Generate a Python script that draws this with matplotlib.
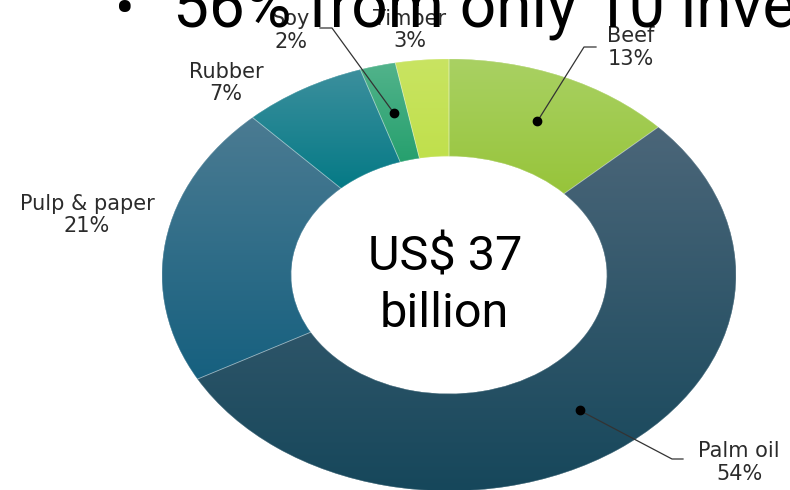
import numpy as np
import matplotlib.pyplot as plt
from matplotlib import transforms
from matplotlib.colors import to_rgb
from matplotlib.patches import PathPatch

# Deforestation-risk financing by commodity
sectors = ["Beef", "Palm oil", "Pulp & paper", "Rubber", "Soy", "Timber"]
shares = [13, 54, 21, 7, 2, 3]
total_lines = ["US$ 37", "billion"]
headline = "56% from only 10 investors"

# gradient ends for each slice (top -> bottom)
top_colors = ["#a9d163", "#4b6679", "#4b7b92", "#3c8f9d", "#52b38b", "#c9e462"]
bottom_colors = ["#97c43a", "#16475b", "#16607f", "#057a86", "#26a06e", "#c0e04c"]

W, H = 790, 490
fig = plt.figure(figsize=(W / 100, H / 100), dpi=100)
# helper: pixel coords measured from the top-left corner
px = transforms.Affine2D().scale(1 / W, -1 / H).translate(0, 1) + fig.transFigure

ax = fig.add_axes([162 / W, (H - 491) / H, 574 / W, 432 / H])
wedges, _ = ax.pie(shares, startangle=90, counterclock=False, radius=1,
                   colors=bottom_colors,
                   wedgeprops=dict(width=0.45, linewidth=0))
ax.set_aspect("auto")

# vertical gradient fill clipped to each wedge
t = np.linspace(0, 1, 256)[:, None, None]
for w, c0, c1 in zip(wedges, top_colors, bottom_colors):
    ext = w.get_path().get_extents()
    img = (1 - t) * np.array(to_rgb(c0)) + t * np.array(to_rgb(c1))
    im = ax.imshow(img, extent=[ext.x0, ext.x1, ext.y0, ext.y1], origin="upper",
                   aspect="auto", interpolation="bilinear", zorder=2)
    im.set_clip_path(w)
    ax.add_patch(PathPatch(w.get_path(), fc="none", ec=(1, 1, 1, 0.3), lw=0.6, zorder=3))

ax.set_xlim(-1, 1)
ax.set_ylim(-1, 1)
ax.axis("off")

# label layout: (x centre, name baseline, pct baseline, leader elbow, leader end)
layout = {
    "Beef": (631, 42, 65, (584, 47), (596, 47)),
    "Palm oil": (739, 457, 480, (672, 459), (683, 459)),
    "Pulp & paper": (87, 210, 232, None, None),
    "Rubber": (226, 78, 100, None, None),
    "Soy": (291, 25, 48, (332, 28), (320, 28)),
    "Timber": (410, 25, 47, None, None),
}

label_font = dict(family="DejaVu Sans", fontsize=15, color="#2b2b2b", ha="center", va="baseline")
cum = 0
for name, s in zip(sectors, shares):
    mid = np.deg2rad(90 - 360 * (cum + s / 2) / 100)
    cum += s
    x0, y0, x1, elbow, end = layout[name]
    fig.text(x0, y0, name, transform=px, **label_font)
    fig.text(x0, x1, f"{s}%", transform=px, **label_font)
    if elbow is None:
        continue
    r = 0.775
    dx, dy = ax.transData.transform((r * np.cos(mid), r * np.sin(mid)))
    dot = px.inverted().transform((dx, dy))
    xs = [dot[0], elbow[0], end[0]]
    ys = [dot[1], elbow[1], end[1]]
    fig.add_artist(plt.Line2D(xs, ys, transform=px, color="#333333", lw=0.9, zorder=5))
    fig.add_artist(plt.Line2D([dot[0]], [dot[1]], transform=px, marker="o", ms=6,
                              color="black", zorder=6))

# total in the hole
fig.text(445, 270, total_lines[0], transform=px, family="Roboto", fontsize=35,
         ha="center", va="baseline", color="black")
fig.text(444, 327, total_lines[1], transform=px, family="Roboto", fontsize=35,
         ha="center", va="baseline", color="black")

# headline bullet running off the top
fig.text(125, 27, "\u2022", transform=px, family="Roboto", fontsize=42,
         ha="center", va="baseline", color="black", zorder=10)
fig.text(173, 27, headline, transform=px, family="Roboto", fontsize=46,
         ha="left", va="baseline", color="black", zorder=10)

fig.savefig("out.png", dpi=100)
